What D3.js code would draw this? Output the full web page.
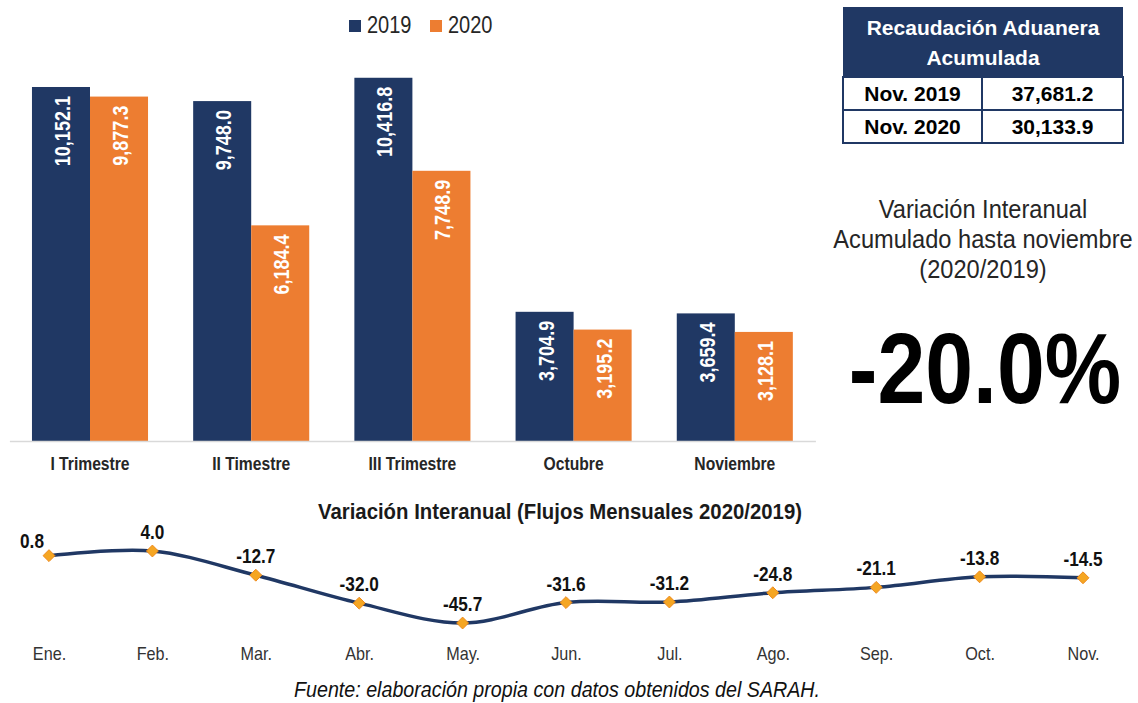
<!DOCTYPE html>
<html><head><meta charset="utf-8">
<script src="https://cdn.jsdelivr.net/npm/d3@7"></script>
<style>
html,body{margin:0;padding:0;background:#fff;}
svg{display:block;}
</style></head>
<body>
<svg id="chart" width="1138" height="703"></svg>
<script>
const categories = ["I Trimestre","II Timestre","III Trimestre","Octubre","Noviembre"];
const series = ["2019","2020"];
const values2019 = [10152.1, 9748.0, 10416.8, 3704.9, 3659.4];
const values2020 = [9877.3, 6184.4, 7748.9, 3195.2, 3128.1];
const months = ["Ene.","Feb.","Mar.","Abr.","May.","Jun.","Jul.","Ago.","Sep.","Oct.","Nov."];
const monthlyVar = [0.8, 4.0, -12.7, -32.0, -45.7, -31.6, -31.2, -24.8, -21.1, -13.8, -14.5];
const tableRows = [["Nov. 2019","37,681.2"],["Nov. 2020","30,133.9"]];
const accumVar = "-20.0%";

const NAVY = "#203864", ORANGE = "#ED7D31";
const SANS = "'Liberation Sans',Arial,sans-serif";
const SX = 0.82; // condensed look
const svg = d3.select("#chart");
const fmtBar = d3.format(",.1f");
const fmtVar = v => d3.format(".1f")(v).replace("\u2212", "-");

function addText(parent, x, y, txt, o) {
  o = o || {};
  const t = parent.append("text")
    .attr("transform", `translate(${x},${y}) scale(${o.sx == null ? SX : o.sx},1)`)
    .attr("text-anchor", o.anchor || "middle")
    .style("font-family", SANS)
    .style("font-size", (o.size || 16) + "px")
    .style("font-weight", o.bold ? "bold" : "normal")
    .style("font-style", o.italic ? "italic" : "normal")
    .attr("fill", o.fill || "#262626")
    .text(txt);
  return t;
}

// ---- Bar chart
const x0 = d3.scaleBand().domain(categories).range([9.4, 815.4]).paddingInner(0.28).paddingOuter(0.14);
const x1 = d3.scaleBand().domain(series).range([0, x0.bandwidth()]);
const y = d3.scaleLinear().domain([0, 11000]).range([441, 441 - 11000 * 0.03487]);
const color = d3.scaleOrdinal().domain(series).range([NAVY, ORANGE]);

const data = categories.map((c, i) => ({cat: c, vals: [{s: "2019", v: values2019[i]}, {s: "2020", v: values2020[i]}]}));
const g = svg.append("g");
const groups = g.selectAll("g.grp").data(data).join("g").attr("transform", d => `translate(${x0(d.cat)},0)`);
groups.selectAll("rect").data(d => d.vals).join("rect")
  .attr("x", d => x1(d.s)).attr("width", x1.bandwidth())
  .attr("y", d => y(d.v)).attr("height", d => y(0) - y(d.v))
  .attr("fill", d => color(d.s));
groups.selectAll("text").data(d => d.vals).join("text")
  .attr("transform", d => `translate(${x1(d.s) + x1.bandwidth() / 2 + 1},${y(d.v) + 9}) rotate(-90) scale(${SX},1)`)
  .attr("text-anchor", "end").attr("dy", "0.36em")
  .style("font-family", SANS).style("font-weight", "bold").style("font-size", "22px")
  .attr("fill", "#fff")
  .text(d => fmtBar(d.v));

// axis
const xAxis = d3.axisBottom(x0).tickSize(0).tickPadding(16);
const ax = svg.append("g").attr("transform", `translate(0,${y(0)})`).call(xAxis);
ax.select(".domain").attr("stroke", "#d9d9d9").attr("stroke-width", 1.5);
ax.selectAll("text").attr("transform", `scale(0.87,1)`)
  .style("font-family", SANS).style("font-weight", "bold").style("font-size", "18px").attr("fill", "#262626");

// legend
const leg = svg.append("g");
const legX = [349, 430];
series.forEach((s, i) => {
  leg.append("rect").attr("x", legX[i]).attr("y", 20).attr("width", 12).attr("height", 12).attr("fill", color(s));
  addText(leg, legX[i] + 18, 33, s, {anchor: "start", size: 23, sx: 0.87});
});

// ---- Table
const tX = 843, tW = 280, tSplit = 982;
const tb = svg.append("g");
tb.append("rect").attr("x", tX).attr("y", 7).attr("width", tW).attr("height", 70).attr("fill", NAVY);
addText(tb, tX + tW / 2, 35, "Recaudación Aduanera", {sx: 1, bold: true, size: 21, fill: "#fff"});
addText(tb, tX + tW / 2, 65, "Acumulada", {sx: 1, bold: true, size: 21, fill: "#fff"});
const rowY = [77, 110];
tableRows.forEach((r, i) => {
  tb.append("rect").attr("x", tX).attr("y", rowY[i]).attr("width", tSplit - tX).attr("height", 33)
    .attr("fill", "#fff").attr("stroke", NAVY).attr("stroke-width", 2);
  tb.append("rect").attr("x", tSplit).attr("y", rowY[i]).attr("width", tX + tW - tSplit).attr("height", 33)
    .attr("fill", "#fff").attr("stroke", NAVY).attr("stroke-width", 2);
  addText(tb, (tX + tSplit) / 2, rowY[i] + 24, r[0], {sx: 1, bold: true, size: 21, fill: "#000"});
  addText(tb, (tSplit + tX + tW) / 2, rowY[i] + 24, r[1], {sx: 1, bold: true, size: 21, fill: "#000"});
});

// ---- Accumulated variation
const vt = ["Variación Interanual", "Acumulado hasta noviembre", "(2020/2019)"];
vt.forEach((t, i) => addText(svg, 983, 218 + i * 30, t, {size: 25, sx: 0.945, fill: "#262626"}));
addText(svg, 985, 403, accumVar, {size: 100, bold: true, sx: 0.86, fill: "#000"});

// ---- Line chart
addText(svg, 560, 519, "Variación Interanual (Flujos Mensuales 2020/2019)", {size: 22, sx: 0.925, bold: true, fill: "#1a1a1a"});

const xl = d3.scalePoint().domain(months).range([49, 1083]);
const yl = d3.scaleLinear().domain([-50, 10]).range([556.8 + 50 * 1.449, 556.8 - 10 * 1.449]);
const line = d3.line().x((d, i) => xl(months[i])).y(d => yl(d)).curve(d3.curveCatmullRom.alpha(0.5));
svg.append("path").datum(monthlyVar).attr("d", line).attr("fill", "none").attr("stroke", NAVY).attr("stroke-width", 3.5);
const sym = d3.symbol().type(d3.symbolDiamond2).size(90);
svg.selectAll("path.mk").data(monthlyVar).join("path").attr("class", "mk")
  .attr("d", sym).attr("transform", (d, i) => `translate(${xl(months[i])},${yl(d)})`)
  .attr("fill", "#F5A623").attr("stroke", "#EE8A1E").attr("stroke-width", 1);
const dl = svg.append("g");
monthlyVar.forEach((d, i) => {
  addText(dl, xl(months[i]) + (i === 0 ? -17 : 0), yl(d) - (i === 0 ? 8 : 12), fmtVar(d),
    {size: 21, bold: true, fill: "#111"});
});
const axl = svg.append("g").attr("transform", "translate(0,660)").call(d3.axisBottom(xl).tickSize(0).tickPadding(0));
axl.select(".domain").remove();
axl.selectAll("text").attr("dy", 0).attr("transform", `scale(0.9,1)`)
  .style("font-family", SANS).style("font-size", "18px").attr("fill", "#333");

// footer
addText(svg, 557, 697, "Fuente: elaboración propia con datos obtenidos del SARAH.", {size: 22, sx: 0.895, italic: true, fill: "#111"});
</script>
</body></html>
